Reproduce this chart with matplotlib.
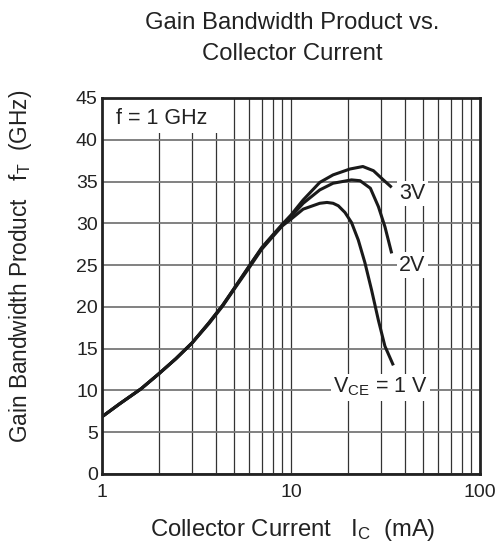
import matplotlib
matplotlib.use("Agg")
import matplotlib.pyplot as plt
from matplotlib.ticker import FixedLocator, NullFormatter
from matplotlib.patches import Rectangle

plt.rcParams['font.family'] = ['Liberation Sans', 'DejaVu Sans']
plt.rcParams['mathtext.fontset'] = 'custom'
plt.rcParams['mathtext.rm'] = 'Liberation Sans'
plt.rcParams['mathtext.it'] = 'Liberation Sans'

# Data (Ic in mA, fT in GHz)
ic_3v = [1, 1.24, 1.61, 2, 2.46, 3, 3.68, 4.35, 5, 6.1, 7, 8, 9, 10, 11.6, 14.2, 16.7, 20.5, 24.0, 27.3, 30.8, 34.1]
ft_3v = [6.85, 8.4, 10.2, 12.0, 13.8, 15.7, 18.1, 20.2, 22.2, 25.1, 27.1, 28.6, 29.9, 31.0, 32.8, 34.9, 35.8, 36.5, 36.8, 36.3, 35.2, 34.3]

ic_2v = [1, 1.24, 1.61, 2, 2.46, 3, 3.68, 4.35, 5, 6.1, 7, 8, 9, 10, 11.6, 14.2, 16.7, 20.9, 23.2, 26.3, 29.0, 31.4, 34.1]
ft_2v = [6.85, 8.4, 10.2, 12.0, 13.8, 15.7, 18.1, 20.2, 22.2, 25.1, 27.0, 28.5, 29.8, 30.8, 32.4, 34.0, 34.8, 35.2, 35.1, 34.2, 32.0, 29.6, 26.4]

ic_1v = [1, 1.24, 1.61, 2, 2.46, 3, 3.68, 4.35, 5, 6.1, 7, 8, 9, 10, 11.6, 14.2, 15.5, 16.7, 17.8, 19.3, 20.9, 22.7, 24.6, 26.7, 29.0, 31.4, 34.8]
ft_1v = [6.85, 8.4, 10.2, 12.0, 13.8, 15.7, 18.0, 20.1, 22.1, 24.9, 26.9, 28.4, 29.7, 30.5, 31.7, 32.4, 32.5, 32.4, 32.1, 31.3, 30.1, 28.0, 25.3, 22.0, 18.4, 15.3, 13.0]

series = [(ic_3v, ft_3v), (ic_2v, ft_2v), (ic_1v, ft_1v)]
curve_labels = ["3V", "2V", "V$_{\\mathregular{CE}}$ = 1 V"]
label_pos = [(44.0, 33.6), (43.8, 25.0), (29.6, 10.4)]

x_ticks = [1, 10, 100]
x_ticklabels = ["1", "10", "100"]
y_ticks = [0, 5, 10, 15, 20, 25, 30, 35, 40, 45]

fig = plt.figure(figsize=(4.99, 5.59), dpi=100)
ax = fig.add_axes([102/499, 1-474/559, 378/499, 376/559])
ax.set_xscale('log')
ax.set_xlim(1, 100)
ax.set_ylim(0, 45)

minor = [m * d for d in (1, 10) for m in range(2, 10)]
ax.xaxis.set_major_locator(FixedLocator(x_ticks))
ax.xaxis.set_minor_locator(FixedLocator(minor))
ax.xaxis.set_minor_formatter(NullFormatter())
ax.set_xticklabels(x_ticklabels)
ax.set_yticks(y_ticks)

ax.grid(True, which='both', axis='x', color='#333333', linewidth=0.9)
ax.grid(True, which='major', axis='y', color='#777777', linewidth=1.3)
ax.tick_params(which='both', length=0)
ax.tick_params(axis='x', pad=7, labelsize=14, colors='#222222')
ax.tick_params(axis='y', pad=3, labelsize=14, colors='#222222')
for s in ax.spines.values():
    s.set_linewidth(2)
    s.set_color('#222222')
ax.set_axisbelow(True)

for (x, y) in series:
    ax.plot(x, y, color='#1a1a1a', linewidth=2.2, solid_capstyle='butt', solid_joinstyle='round')

for lab, (lx, ly) in zip(curve_labels, label_pos):
    ax.text(lx, ly, lab, fontsize=15.5, ha='center', va='center', color='#222222',
            bbox=dict(facecolor='white', edgecolor='none', pad=1.5), zorder=5)

ax.add_patch(Rectangle((1, 40.8), 3.7, 4.2, facecolor='white', edgecolor='none', zorder=1.5))
ax.text(2.07, 42.5, "f = 1 GHz", fontsize=15.5, ha='center', va='center', color='#222222', zorder=5)

fig.text(292/499, 1-29/559, "Gain Bandwidth Product vs.", ha='center', va='baseline', fontsize=17.2, color='#222222')
fig.text(292/499, 1-60/559, "Collector Current", ha='center', va='baseline', fontsize=17.2, color='#222222')
fig.text(293/499, 1-536/559, "Collector Current   I$_{\\mathregular{C}}$  (mA)", ha='center', va='baseline', fontsize=17.2, color='#222222')
fig.text(21/499, 1-266/559, "Gain Bandwidth Product   f$_{\\mathregular{T}}$  (GHz)", ha='center', va='center', rotation=90, fontsize=16.3, color='#222222')

fig.savefig("out.png", dpi=100)
